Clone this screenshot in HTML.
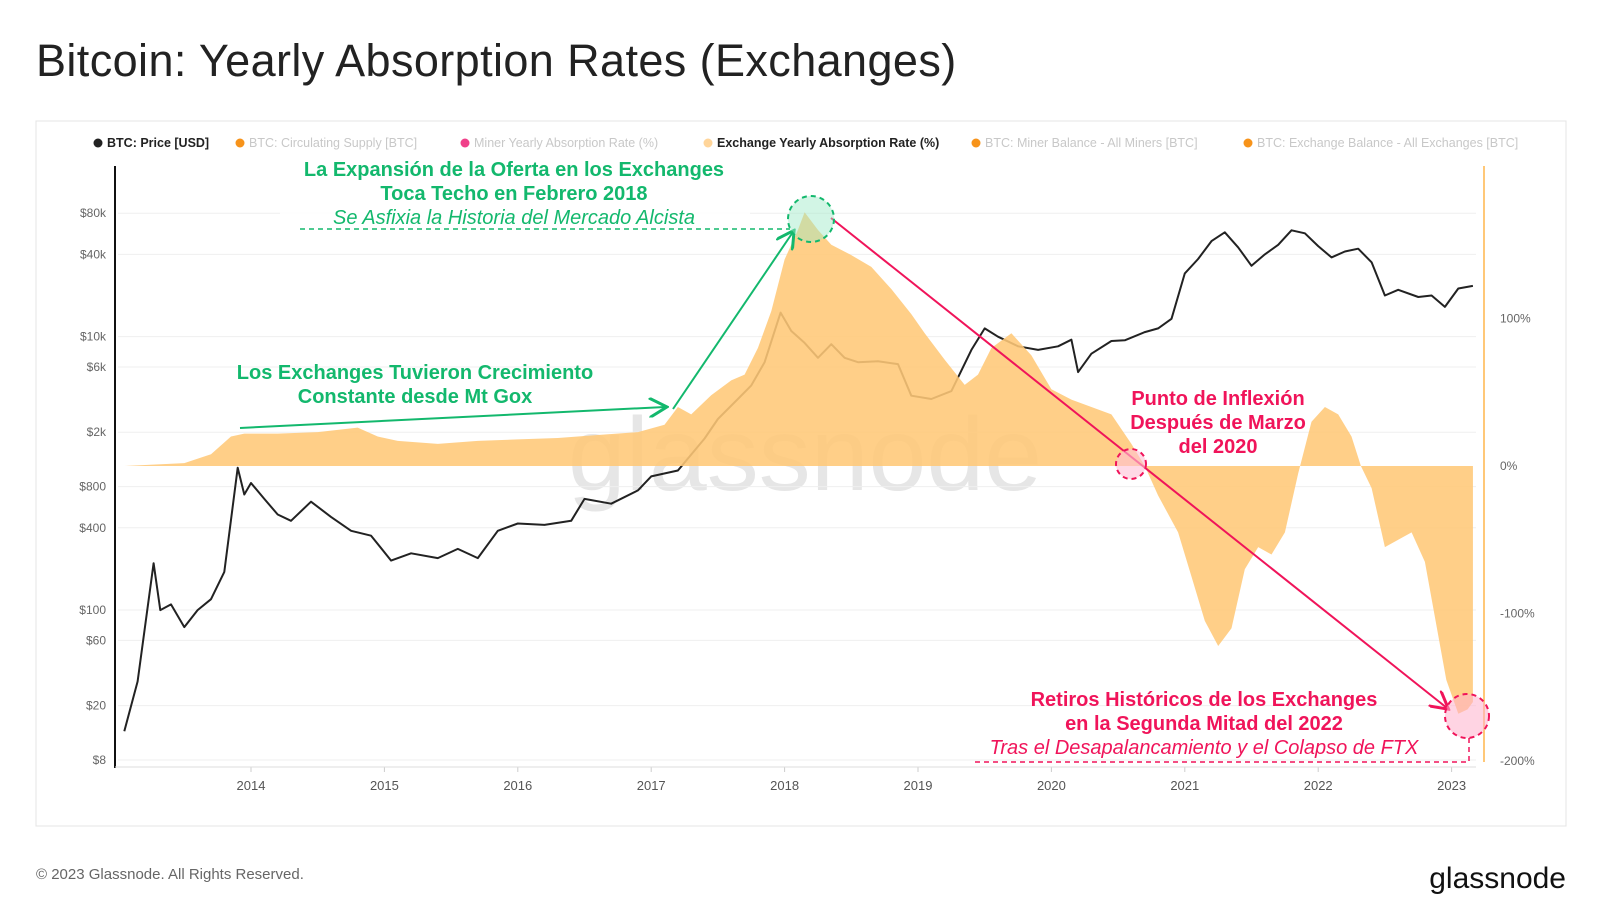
<!DOCTYPE html>
<html><head><meta charset="utf-8"><style>
body{margin:0;background:#fff;width:1600px;height:922px;overflow:hidden;font-family:"Liberation Sans",sans-serif}
svg{position:absolute;left:0;top:0}
</style></head><body>
<svg id="c" width="1600" height="922" viewBox="0 0 1600 922">
<text x="36" y="76" font-size="45" letter-spacing="0.4" fill="#222">Bitcoin: Yearly Absorption Rates (Exchanges)</text>
<rect x="36" y="121" width="1530" height="705" fill="#fff" stroke="#e4e4e4"/>
<g id="legend" font-size="12.5"></g>
<text x="805" y="490" font-size="104" fill="#e6e6e6" text-anchor="middle">glassnode</text>
<g id="grid"></g><g id="marks"></g><g id="axes"></g><g id="ann"></g>
<text x="36" y="879" font-size="15" fill="#666">© 2023 Glassnode. All Rights Reserved.</text>
<text x="1566" y="888" font-size="30" fill="#111" text-anchor="end">glassnode</text>
</svg>
<script>
const priceTimes=[2013.05,2013.15,2013.27,2013.32,2013.4,2013.5,2013.6,2013.7,2013.8,2013.9,2013.95,2014.0,2014.1,2014.2,2014.3,2014.45,2014.6,2014.75,2014.9,2015.05,2015.2,2015.4,2015.55,2015.7,2015.85,2016.0,2016.2,2016.4,2016.5,2016.7,2016.9,2017.0,2017.2,2017.4,2017.5,2017.65,2017.75,2017.85,2017.97,2018.05,2018.15,2018.25,2018.35,2018.45,2018.55,2018.7,2018.85,2018.95,2019.1,2019.25,2019.4,2019.5,2019.6,2019.75,2019.9,2020.05,2020.15,2020.2,2020.3,2020.45,2020.55,2020.7,2020.8,2020.9,2021.0,2021.1,2021.2,2021.3,2021.4,2021.5,2021.6,2021.7,2021.8,2021.9,2022.0,2022.1,2022.2,2022.3,2022.4,2022.5,2022.6,2022.75,2022.85,2022.95,2023.05,2023.16];
const priceValues=[13,30,220,100,110,75,100,120,190,1100,700,850,650,500,450,620,480,380,350,230,260,240,280,240,380,430,420,450,650,600,750,950,1050,1800,2500,3500,4400,6500,15000,11000,9000,7000,8800,7000,6500,6600,6300,3700,3500,4000,8000,11500,10000,8500,8000,8500,9500,5500,7500,9300,9400,10800,11500,13500,29000,37000,50000,58000,45000,33000,40000,47000,60000,57000,46000,38000,42000,44000,35000,20000,22000,19500,20000,16500,22500,23500];
const absTimes=[2013.05,2013.5,2013.7,2013.85,2013.95,2014.2,2014.5,2014.8,2014.95,2015.1,2015.4,2015.7,2016.0,2016.3,2016.6,2016.9,2017.1,2017.2,2017.3,2017.45,2017.6,2017.7,2017.8,2017.9,2018.0,2018.1,2018.15,2018.25,2018.35,2018.5,2018.65,2018.8,2018.95,2019.05,2019.2,2019.35,2019.45,2019.55,2019.7,2019.85,2020.0,2020.15,2020.3,2020.45,2020.6,2020.7,2020.8,2020.95,2021.05,2021.15,2021.25,2021.35,2021.45,2021.55,2021.65,2021.75,2021.85,2021.95,2022.05,2022.15,2022.25,2022.32,2022.4,2022.5,2022.6,2022.7,2022.8,2022.88,2022.96,2023.05,2023.12,2023.16];
const absValues=[0,2,8,20,22,22,23,26,20,17,15,17,18,19,21,23,28,40,35,48,58,62,80,105,140,160,172,160,150,143,135,120,103,90,72,55,62,80,90,75,52,45,40,35,15,0,-20,-45,-75,-105,-122,-110,-70,-55,-60,-45,-5,30,40,35,20,0,-15,-55,-50,-45,-65,-105,-145,-168,-165,-160];
const priceTicks=[80000,40000,10000,6000,2000,800,400,100,60,20,8];
const priceTickLabels=["$80k","$40k","$10k","$6k","$2k","$800","$400","$100","$60","$20","$8"];
const pctTicks=[100,0,-100,-200];
const pctTickLabels=["100%","0%","-100%","-200%"];
const years=[2014,2015,2016,2017,2018,2019,2020,2021,2022,2023];
const legendLabels=["BTC: Price [USD]","BTC: Circulating Supply [BTC]","Miner Yearly Absorption Rate (%)","Exchange Yearly Absorption Rate (%)","BTC: Miner Balance - All Miners [BTC]","BTC: Exchange Balance - All Exchanges [BTC]"];
const legendColors=["#222","#f7931a","#f0408a","#ffd59a","#f7931a","#f7931a"];
const legendActive=[true,false,false,true,false,false];

const NS="http://www.w3.org/2000/svg";
const xT=t=>251+(t-2014)*133.4;
const yP=p=>760-136.7*Math.log10(p/8);
const yA=v=>466-v*1.475;
function mk(tag,attrs,parent,txt){const e=document.createElementNS(NS,tag);for(const k in attrs)e.setAttribute(k,attrs[k]);if(txt!==undefined)e.textContent=txt;parent.appendChild(e);return e;}
const G=id=>document.getElementById(id);

const lx=[98,240,465,708,976,1248];
legendLabels.forEach((l,i)=>{
  const g=mk('g',{},G('legend'));
  
  
  mk('circle',{cx:lx[i],cy:143,r:4.5,fill:legendColors[i]},g);
  mk('text',{x:lx[i]+9,y:147,fill:legendActive[i]?'#222':'#c8c8c8','font-weight':legendActive[i]?'bold':'normal'},g,l);
});
priceTicks.forEach((p,i)=>{
  const y=yP(p);
  const gl=mk('line',{x1:118,x2:1476,y1:y,y2:y,stroke:'#efefef'},G('grid'));
  
  
  const t=mk('text',{x:106,y:y+4,'font-size':12,fill:'#666','text-anchor':'end'},G('axes'),priceTickLabels[i]);
  
  
});
pctTicks.forEach((v,i)=>{
  const t=mk('text',{x:1500,y:yA(v)+4,'font-size':12,fill:'#666'},G('axes'),pctTickLabels[i]);
  
  
});
years.forEach(y=>{
  const x=xT(y);
  mk('line',{x1:x,x2:x,y1:767,y2:772,stroke:'#ccc'},G('axes'));
  const t=mk('text',{x:x,y:790,'font-size':13,fill:'#555','text-anchor':'middle'},G('axes'),String(y));
  
  
});
let pd='';
priceTimes.forEach((t,i)=>{pd+=(i?' L':'M')+xT(t).toFixed(1)+','+yP(priceValues[i]).toFixed(1);});
const pl=mk('path',{d:pd,fill:'none',stroke:'#222','stroke-width':2,'stroke-linejoin':'round'},G('marks'));


let d='M'+xT(absTimes[0])+','+yA(0);
absTimes.forEach((t,i)=>{d+=' L'+xT(t).toFixed(1)+','+yA(absValues[i]).toFixed(1);});
d+=' L'+xT(absTimes[absTimes.length-1])+','+yA(0)+' Z';
const area=mk('path',{d:d,fill:'#ffc878','fill-opacity':0.88},G('marks'));


mk('line',{x1:115,x2:115,y1:166,y2:768,stroke:'#111','stroke-width':2},G('axes'));
mk('line',{x1:115,x2:1476,y1:767,y2:767,stroke:'#ddd'},G('axes'));
mk('line',{x1:1484,x2:1484,y1:166,y2:762,stroke:'#ffc878','stroke-width':2},G('axes'));
</script>
<svg width="1600" height="922" style="pointer-events:none">
<defs>
<marker id="ag" markerWidth="10" markerHeight="10" refX="8" refY="5" orient="auto"><path d="M0,0 L9,5 L0,10" fill="none" stroke="#13b86d" stroke-width="1.5"/></marker>
<marker id="ar" markerWidth="10" markerHeight="10" refX="8" refY="5" orient="auto"><path d="M0,0 L9,5 L0,10" fill="none" stroke="#f0145a" stroke-width="1.5"/></marker>
</defs>
<line x1="240" y1="428" x2="665" y2="407" stroke="#13b86d" stroke-width="2" marker-end="url(#ag)"/>
<line x1="673" y1="409" x2="793" y2="232" stroke="#13b86d" stroke-width="2" marker-end="url(#ag)"/>
<line x1="831" y1="218" x2="1447" y2="708" stroke="#f0145a" stroke-width="2" marker-end="url(#ar)"/>
<circle cx="811" cy="219" r="23" fill="#9be8c6" fill-opacity="0.45" stroke="#13b86d" stroke-width="2" stroke-dasharray="5,4"/>
<circle cx="1131" cy="464" r="15" fill="#ffc0d6" fill-opacity="0.6" stroke="#f0145a" stroke-width="2" stroke-dasharray="5,4"/>
<circle cx="1467" cy="716" r="22" fill="#ffb0cc" fill-opacity="0.55" stroke="#f0145a" stroke-width="2" stroke-dasharray="5,4"/>
<polyline points="300,229 790,229" fill="none" stroke="#13b86d" stroke-width="1.5" stroke-dasharray="5,4"/>
<polyline points="975,762 1469,762 1469,738" fill="none" stroke="#f0145a" stroke-width="1.5" stroke-dasharray="5,4"/>
<g font-family="Liberation Sans, sans-serif" text-anchor="middle">
<rect x="280" y="158" width="470" height="66" fill="#fff" fill-opacity="0.85"/>
<text x="514" y="176" font-size="20" font-weight="bold" fill="#13b86d">La Expansión de la Oferta en los Exchanges</text>
<text x="514" y="200" font-size="20" font-weight="bold" fill="#13b86d">Toca Techo en Febrero 2018</text>
<text x="514" y="224" font-size="20" font-style="italic" fill="#13b86d">Se Asfixia la Historia del Mercado Alcista</text>
<text x="415" y="379" font-size="20" font-weight="bold" fill="#13b86d">Los Exchanges Tuvieron Crecimiento</text>
<text x="415" y="403" font-size="20" font-weight="bold" fill="#13b86d">Constante desde Mt Gox</text>
<text x="1218" y="405" font-size="20" font-weight="bold" fill="#f0145a">Punto de Inflexión</text>
<text x="1218" y="429" font-size="20" font-weight="bold" fill="#f0145a">Después de Marzo</text>
<text x="1218" y="453" font-size="20" font-weight="bold" fill="#f0145a">del 2020</text>
<text x="1204" y="706" font-size="20" font-weight="bold" fill="#f0145a">Retiros Históricos de los Exchanges</text>
<text x="1204" y="730" font-size="20" font-weight="bold" fill="#f0145a">en la Segunda Mitad del 2022</text>
<text x="1204" y="754" font-size="20" font-style="italic" fill="#f0145a">Tras el Desapalancamiento y el Colapso de FTX</text>
</g>
</svg>
</body></html>
